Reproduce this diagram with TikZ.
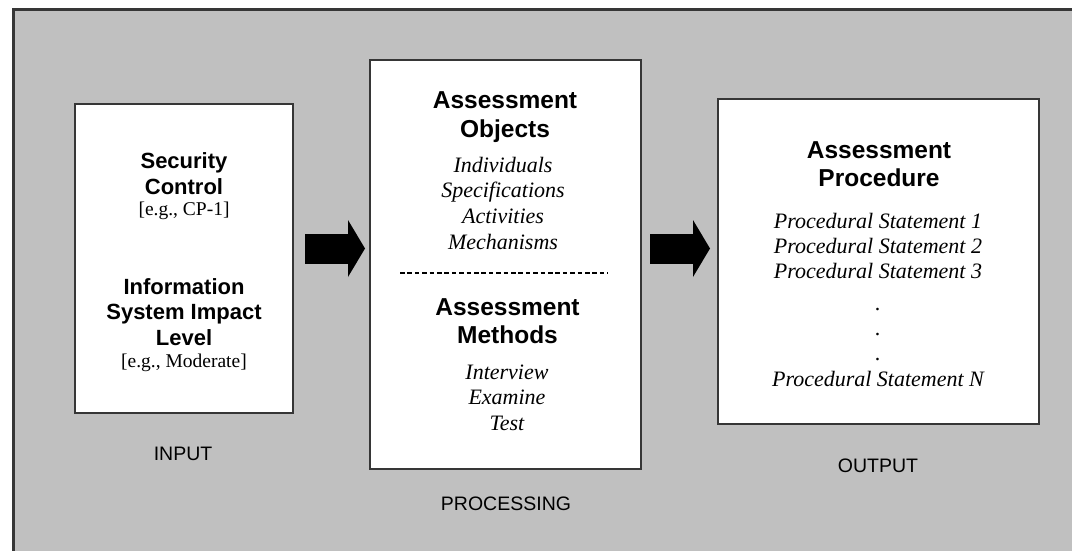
\documentclass[tikz,border=0pt]{standalone}
\usepackage{fontspec}
\setmainfont{Liberation Serif}
\setsansfont{Liberation Sans}
\usetikzlibrary{arrows.meta}
\definecolor{backdrop}{HTML}{C0C0C0}
\definecolor{frame}{HTML}{363636}
\tikzset{panel/.style={draw=frame, line width=2pt, fill=white, outer sep=0pt, anchor=north west}, head/.style={font=\sffamily\bfseries\fontsize{24.5pt}{28pt}\selectfont, anchor=base, inner sep=0pt}, headsm/.style={head, font=\sffamily\bfseries\fontsize{22pt}{25pt}\selectfont}, entry/.style={font=\itshape\fontsize{22pt}{25pt}\selectfont, anchor=base, inner sep=0pt}, ex/.style={font=\fontsize{19.5pt}{22pt}\selectfont, anchor=base, inner sep=0pt}, stage/.style={font=\sffamily\fontsize{19.5pt}{22pt}\selectfont, anchor=base, inner sep=0pt}, flow/.style={-{Triangle[length=17pt,width=57pt,line width=0pt]}, line width=30pt, black}}

\begin{document}
\begin{tikzpicture}[x=1pt,y=-1pt]
\fill[white] (0,0) rectangle (1072,551);
\useasboundingbox (0,0) rectangle (1072,551);
\draw[frame, line width=2.5pt, fill=backdrop] (13.5,9.5) rectangle (1090,570);
% input
\node[panel, minimum width=218pt, minimum height=309pt] (input) at (75,104) {};
\node[headsm] (secur) at (184,168.5) {Security};
\node[headsm] (ctrl) at (184,194) {Control};
\node[ex] (ctrlex) at (184,215) {[e.g., CP-1]};
\node[headsm] (info) at (184,294.5) {Information};
\node[headsm] (sysimp) at (184,319.5) {System Impact};
\node[headsm] (level) at (184,345) {Level};
\node[ex] (levelex) at (184,367) {[e.g., Moderate]};
\node[stage] (inlbl) at (183,460) {INPUT};
% processing
\node[panel, minimum width=271pt, minimum height=409pt] (proc) at (370,60) {};
\node[head] (objhd) at (505,109) {Assessment};
\node[head] (objhd2) at (505,138) {Objects};
\foreach \y/\t in {172/Individuals, 197/Specifications, 223/Activities, 249/Mechanisms}
  \node[entry] (obj-\y) at (503,\y) {\t};
\draw[line width=1.1pt, dash pattern=on 4.6pt off 2.8pt] (400,273) -- (608,273);
\node[head] (methd) at (507.5,315.5) {Assessment};
\node[head] (methd2) at (507.5,343) {Methods};
\foreach \y/\t in {379/Interview, 404/Examine, 430/Test}
  \node[entry] (meth-\y) at (507,\y) {\t};
\node[stage] (proclbl) at (506,510) {PROCESSING};
% output
\node[panel, minimum width=321pt, minimum height=325pt] (outp) at (718,99) {};
\node[head] (prochd) at (879,158) {Assessment};
\node[head] (prochd2) at (879,186) {Procedure};
\foreach \y/\t in {228/1, 253/2, 278/3}
  \node[entry] (stmt-\t) at (878,\y) {Procedural Statement \t};
\foreach \y in {310,335,360}
  \node[entry] (gap-\y) at (878,\y) {.};
\node[entry] (stmt-n) at (878,386) {Procedural Statement N};
\node[stage] (outlbl) at (878,472) {OUTPUT};
% block arrows
\coordinate (lane) at (0,248.5);
\draw[flow, shorten <=12pt, shorten >=5pt] (input.east |- lane) -- (proc.west |- lane);
\draw[flow, shorten <=9pt, shorten >=8pt] (proc.east |- lane) -- (outp.west |- lane);
\end{tikzpicture}
\end{document}
